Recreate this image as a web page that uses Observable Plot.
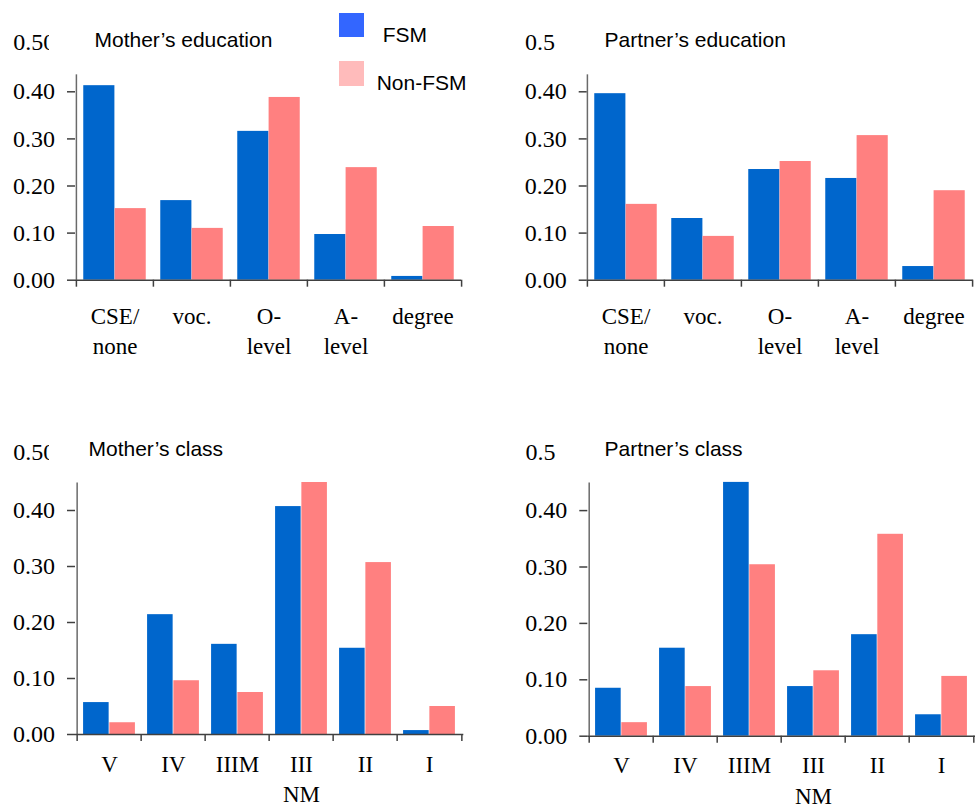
<!DOCTYPE html>
<html><head><meta charset="utf-8">
<script src="https://cdn.jsdelivr.net/npm/d3@7"></script>
<script src="https://cdn.jsdelivr.net/npm/@observablehq/plot@0.6"></script>
<style>
body{margin:0;background:#fff}
#wrap{position:relative;width:978px;height:810px;overflow:hidden;background:#fff}
.panel{position:absolute}
.panel svg{max-width:none}
.leg{position:absolute;font-family:"Liberation Sans",Arial,sans-serif;font-size:21px;line-height:21px;color:#000;white-space:nowrap}
.sw{position:absolute}
</style></head>
<body><div id="wrap"></div>
<script>
// ---- data ----
const series = ["FSM", "Non-FSM"];
const eduCats = ["CSE/\nnone", "voc.", "O-\nlevel", "A-\nlevel", "degree"];
const classCats = ["V", "IV", "IIIM", "III\nNM", "II", "I"];
const motherEduFSM = [0.413, 0.169, 0.316, 0.097, 0.008];
const motherEduNon = [0.152, 0.110, 0.388, 0.239, 0.114];
const partnerEduFSM = [0.396, 0.131, 0.235, 0.216, 0.029];
const partnerEduNon = [0.161, 0.093, 0.252, 0.307, 0.190];
const motherClassFSM = [0.057, 0.214, 0.161, 0.407, 0.154, 0.007];
const motherClassNon = [0.021, 0.096, 0.075, 0.450, 0.307, 0.050];
const partnerClassFSM = [0.085, 0.156, 0.450, 0.088, 0.180, 0.038];
const partnerClassNon = [0.024, 0.088, 0.304, 0.116, 0.358, 0.106];
const yTicks = [0, 0.1, 0.2, 0.3, 0.4];
const titles = ["Mother\u2019s education", "Partner\u2019s education", "Mother\u2019s class", "Partner\u2019s class"];

// ---- styling ----
const barColors = ["#0066CC", "#FF8080"];
const legendColors = ["#3366FF", "#FFBBBB"];
const serif = '"Liberation Serif","Times New Roman",serif';
const sans = '"Liberation Sans",Arial,sans-serif';
const wrap = document.getElementById("wrap");

function panel(cfg) {
  const n = cfg.cats.length;
  const bw = (cfg.width - cfg.ml - cfg.mr) / n;
  const outer = bw * 0.094;
  const rows = cfg.cats.flatMap((c, i) => [
    {cat: c, series: series[0], value: cfg.fsm[i]},
    {cat: c, series: series[1], value: cfg.non[i]}
  ]);
  const svg = Plot.plot({
    width: cfg.width, height: cfg.height,
    marginLeft: cfg.ml, marginRight: cfg.mr, marginTop: cfg.mt, marginBottom: cfg.mb,
    style: {background: "transparent", overflow: "visible", fontFamily: serif, color: "#000"},
    x: {type: "band", domain: cfg.cats, paddingInner: 0, paddingOuter: 0},
    y: {domain: [0, 0.5]},
    color: {domain: series, range: barColors},
    marks: [
      Plot.barY(rows.filter(d => d.series === series[0]), {x: "cat", y: "value", fill: "series", insetLeft: outer, insetRight: bw / 2}),
      Plot.barY(rows.filter(d => d.series === series[1]), {x: "cat", y: "value", fill: "series", insetLeft: bw / 2, insetRight: outer}),
      Plot.ruleX([cfg.cats[0]], {x: d => d, dx: -bw / 2, y1: 0, y2: cfg.axisTop, stroke: "#6a6a6a", strokeWidth: 1.5}),
      Plot.ruleY([0], {stroke: "#404040", strokeWidth: 1.5}),
      Plot.ruleX(cfg.cats, {x: d => d, dx: -bw / 2, y1: 0, y2: 0, insetBottom: -7, stroke: "#404040", strokeWidth: 1.5}),
      Plot.ruleX([cfg.cats[n - 1]], {x: d => d, dx: bw / 2, y1: 0, y2: 0, insetBottom: -7, stroke: "#404040", strokeWidth: 1.5}),
      Plot.axisY({ticks: yTicks, tickSize: 8, tickPadding: 12.5, tickFormat: d3.format(".2f"), fontSize: 24, fontFamily: serif, stroke: "#404040", fill: "#000", strokeWidth: 1.5, label: null}),
      Plot.axisX({tickSize: 0, tickPadding: cfg.labelPad, fontSize: 23, fontFamily: serif, lineHeight: 1.33, fill: "#000", label: null}),
      Plot.text([0.5], {y: d => d, frameAnchor: "left", dx: -62.3, dy: -2, textAnchor: "start", text: () => cfg.topLabel, fontSize: 24, fontFamily: serif, fill: "#000"}),
      Plot.text([cfg.title], {frameAnchor: "top-left", dx: cfg.tdx, dy: cfg.tdy, lineAnchor: "bottom", textAnchor: "start", text: d => d, fontFamily: sans, fontSize: 21, fill: "#000"})
    ]
  });
  if (cfg.clipX) {
    const s = d3.select(svg);
    const id = "clip" + cfg.id;
    s.append("defs").append("clipPath").attr("id", id).attr("clipPathUnits", "userSpaceOnUse")
      .append("rect").attr("x", 0).attr("y", 0).attr("width", cfg.clipX).attr("height", cfg.height);
    const w = s.append("g").attr("clip-path", `url(#${id})`);
    const t = s.selectAll("text").filter(function() { return this.textContent === cfg.topLabel; }).node();
    if (t && t.parentNode) w.node().appendChild(t.parentNode);
  }
  const div = document.createElement("div");
  div.className = "panel";
  div.style.left = cfg.left + "px";
  div.style.top = cfg.top + "px";
  div.style.width = cfg.width + "px";
  div.style.height = cfg.height + "px";
  div.appendChild(svg);
  wrap.appendChild(div);
}

panel({id: 1, left: 0, top: 0, width: 489, height: 405, ml: 75, mr: 28, mt: 44.2, mb: 125.3,
  cats: eduCats, fsm: motherEduFSM, non: motherEduNon, title: titles[0], axisTop: 0.436,
  labelPad: 22, topLabel: "0.50", clipX: 49, tdx: 19, tdy: 1.8});
panel({id: 2, left: 489, top: 0, width: 489, height: 405, ml: 97.7, mr: 5.3, mt: 44.2, mb: 125.3,
  cats: eduCats, fsm: partnerEduFSM, non: partnerEduNon, title: titles[1], axisTop: 0.436,
  labelPad: 22, topLabel: "0.5", clipX: 0, tdx: 17.3, tdy: 1.8});
panel({id: 3, left: 0, top: 405, width: 489, height: 405, ml: 75, mr: 25.7, mt: 49, mb: 76,
  cats: classCats, fsm: motherClassFSM, non: motherClassNon, title: titles[2], axisTop: 0.449,
  labelPad: 15.5, topLabel: "0.50", clipX: 49, tdx: 13, tdy: 1});
panel({id: 4, left: 489, top: 405, width: 489, height: 405, ml: 98.3, mr: 3, mt: 48.7, mb: 74.3,
  cats: classCats, fsm: partnerClassFSM, non: partnerClassNon, title: titles[3], axisTop: 0.449,
  labelPad: 15.5, topLabel: "0.5", clipX: 0, tdx: 16.7, tdy: 1.3});

// ---- legend ----
const legendPos = [{sx: 339, sy: 12.7, sh: 24, tx: 382.7, ty: 23.9}, {sx: 339, sy: 61, sh: 25, tx: 376.7, ty: 71.5}];
series.forEach((s, i) => {
  const p = legendPos[i];
  const sw = document.createElement("div");
  sw.className = "sw";
  Object.assign(sw.style, {left: p.sx + "px", top: p.sy + "px", width: "25px", height: p.sh + "px", background: legendColors[i]});
  wrap.appendChild(sw);
  const t = document.createElement("div");
  t.className = "leg";
  t.style.left = p.tx + "px";
  t.style.top = p.ty + "px";
  t.textContent = s;
  wrap.appendChild(t);
});
</script>
</body></html>
